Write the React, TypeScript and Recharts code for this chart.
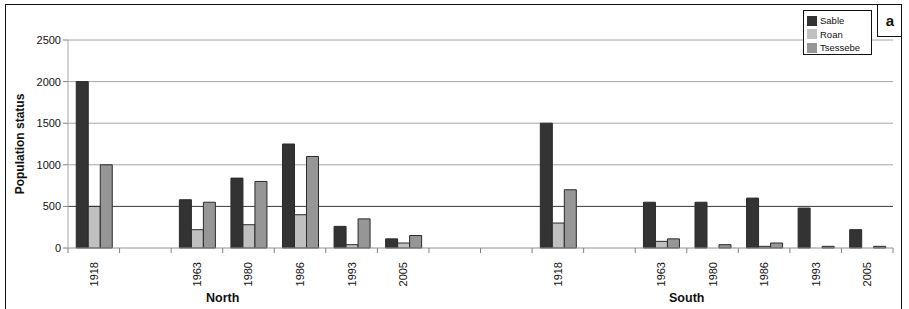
import React from 'react';
import { BarChart, Bar, XAxis, YAxis, CartesianGrid } from 'recharts';

const categories = ['1918', '', '1963', '1980', '1986', '1993', '2005', '', '', '1918', '', '1963', '1980', '1986', '1993', '2005'];
const sable = [2000, null, 580, 840, 1250, 260, 110, null, null, 1500, null, 550, 550, 600, 480, 220];
const roan = [500, null, 220, 280, 400, 40, 60, null, null, 300, null, 80, 0, 20, 0, 0];
const tsessebe = [1000, null, 550, 800, 1100, 350, 150, null, null, 700, null, 110, 40, 60, 20, 20];
const yTicks = [0, 500, 1000, 1500, 2000, 2500];
const regionNames = ['North', 'South'];
const regionAfterIndex = [2, 11];
const seriesNames = ['Sable', 'Roan', 'Tsessebe'];
const seriesColors = ['#333333', '#c0c0c0', '#969696'];
const panelLetter = 'a';

const W = 909;
const H = 309;
const M = { top: 40, right: 16, left: 8, bottom: 31 };
const Y_W = 60;
const X_H = 30;
const PLOT_W = W - M.left - M.right - Y_W;
const CAT_W = PLOT_W / categories.length;
const FONT = '"Liberation Sans", Arial, sans-serif';

const data = categories.map((c, i) => ({
  id: 'c' + i,
  label: c,
  Sable: sable[i],
  Roan: roan[i],
  Tsessebe: tsessebe[i],
}));

function XTick(props: any) {
  const { x, y, payload } = props;
  const i = payload.index;
  const half = CAT_W / 2;
  const ri = regionAfterIndex.indexOf(i);
  return (
    <g>
      <line x1={x - half} x2={x - half} y1={y} y2={y + 5} stroke="#808080" />
      {i === categories.length - 1 && (
        <line x1={x + half} x2={x + half} y1={y} y2={y + 5} stroke="#808080" />
      )}
      {categories[i] !== '' && (
        <text
          transform={`translate(${x + 4},${y + 14}) rotate(-90)`}
          textAnchor="end"
          fontSize={11}
          fontFamily={FONT}
          fill="#111"
        >
          {categories[i]}
        </text>
      )}
      {ri >= 0 && (
        <text
          x={x + half}
          y={y + 54}
          textAnchor="middle"
          fontSize={12.5}
          fontWeight="bold"
          fontFamily={FONT}
          fill="#111"
        >
          {regionNames[ri]}
        </text>
      )}
    </g>
  );
}

export default function App() {
  return (
    <div style={{ position: 'absolute', left: 0, top: 0, width: W, height: H, background: '#fff', overflow: 'hidden' }}>
      <div style={{ position: 'absolute', left: 5, top: 4, width: 897, height: 320, border: '1px solid #111', boxSizing: 'border-box' }} />
      <BarChart
        width={W}
        height={H}
        data={data}
        margin={M}
        barCategoryGap="16%"
        barGap={0}
      >
        <CartesianGrid vertical={false} horizontalValues={[1000, 1500, 2000, 2500]} stroke="#a6a6a6" />
        <CartesianGrid vertical={false} horizontalValues={[500]} stroke="#3a3a3a" />
        <XAxis
          dataKey="id"
          height={X_H}
          interval={0}
          tickSize={0}
          tickMargin={0}
          tickLine={false}
          axisLine={{ stroke: '#909090' }}
          tick={<XTick />}
        />
        <YAxis
          width={Y_W}
          domain={[0, 2500]}
          ticks={yTicks}
          interval={0}
          tickSize={5}
          tickMargin={2}
          axisLine={{ stroke: '#a6a6a6' }}
          tickLine={{ stroke: '#808080' }}
          tick={{ fontSize: 11, fontFamily: FONT, fill: '#111' }}
          label={{
            content: () => (
              <text
                transform={`translate(24,${M.top + (H - M.top - M.bottom - X_H) / 2}) rotate(-90)`}
                textAnchor="middle"
                fontSize={12}
                fontWeight="bold"
                fontFamily={FONT}
                fill="#111"
              >
                Population status
              </text>
            ),
          }}
        />
        <YAxis
          yAxisId="r"
          orientation="right"
          width={0}
          domain={[0, 2500]}
          tick={false}
          tickLine={false}
          axisLine={{ stroke: '#b0b0b0' }}
        />
        {seriesNames.map((s, k) => (
          <Bar key={s} dataKey={s} fill={seriesColors[k]} stroke="#2a2a2a" strokeWidth={1} isAnimationActive={false} />
        ))}
      </BarChart>
      <div
        style={{
          position: 'absolute',
          left: 803,
          top: 10,
          width: 69,
          height: 45,
          border: '1px solid #111',
          boxSizing: 'border-box',
          background: '#fff',
          fontFamily: FONT,
          fontSize: 9.5,
          color: '#111',
          padding: '3px 0 0 3px',
        }}
      >
        {seriesNames.map((s, k) => (
          <div key={s} style={{ display: 'flex', alignItems: 'center', height: 13.5 }}>
            <div style={{ width: 10, height: 10, background: seriesColors[k], marginRight: 3 }} />
            <span>{s}</span>
          </div>
        ))}
      </div>
      <div
        style={{
          position: 'absolute',
          left: 877,
          top: 4,
          width: 25,
          height: 33,
          borderLeft: '1px solid #111',
          borderBottom: '1px solid #111',
          boxSizing: 'border-box',
          fontFamily: FONT,
          fontWeight: 'bold',
          fontSize: 15,
          display: 'flex',
          alignItems: 'center',
          justifyContent: 'center',
          color: '#111',
        }}
      >
        {panelLetter}
      </div>
    </div>
  );
}
